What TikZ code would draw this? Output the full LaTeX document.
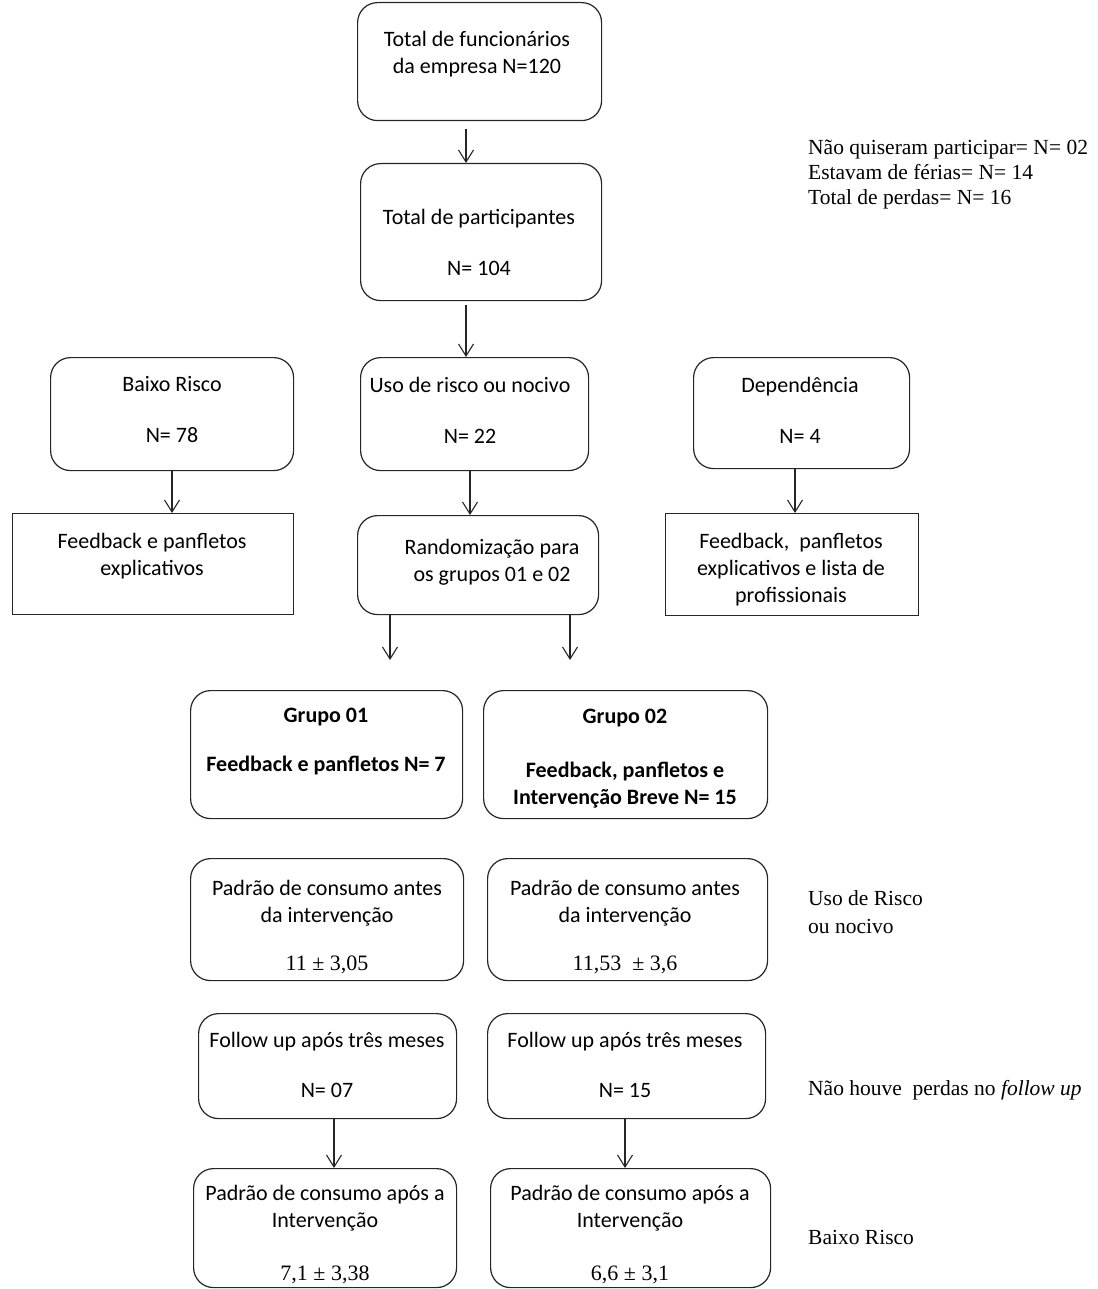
\documentclass[tikz,border=0pt]{standalone}
\usepackage{fontspec}
\setmainfont{Carlito}
\newfontfamily\tnr{Liberation Serif}
\usetikzlibrary{arrows.meta}
\begin{document}
\begin{tikzpicture}[x=1pt,y=-1pt,
  box/.style={draw=black!85, line width=1.2pt, rounded corners=20pt, anchor=north west, inner sep=0pt},
  rbox/.style={draw=black!85, line width=1.2pt, anchor=north west, inner sep=0pt},
  txt/.style={align=center, font=\fontsize{22}{27}\selectfont, inner sep=0pt},
  side/.style={align=left, anchor=west, font=\tnr\fontsize{21.5}{25}\selectfont, inner sep=0pt},
  arr/.style={draw=black!85, line width=1.1pt, -{Straight Barb[length=12pt,width=15pt]}}]
\useasboundingbox (0,0) rectangle (1097,1289);

% boxes
\node[box, minimum width=244pt, minimum height=118pt] (b1) at (357,2) {};
\node[box, minimum width=241pt, minimum height=137pt] (b2) at (360,163) {};
\node[box, minimum width=243pt, minimum height=113pt] (br) at (50,357) {};
\node[box, minimum width=228pt, minimum height=113pt] (uso) at (360,357) {};
\node[box, minimum width=216pt, minimum height=111pt] (dep) at (693,357) {};
\node[rbox, minimum width=281pt, minimum height=101pt] (fb1) at (12,513) {};
\node[box, minimum width=241pt, minimum height=99pt] (rand) at (357,515) {};
\node[rbox, minimum width=253pt, minimum height=102pt] (fb3) at (665,513) {};
\node[box, minimum width=272pt, minimum height=128pt] (g1) at (190,690) {};
\node[box, minimum width=284pt, minimum height=128pt] (g2) at (483,690) {};
\node[box, minimum width=273pt, minimum height=122pt] (pa1) at (190,858) {};
\node[box, minimum width=280pt, minimum height=122pt] (pa2) at (487,858) {};
\node[box, minimum width=258pt, minimum height=105pt] (fu1) at (198,1013) {};
\node[box, minimum width=278pt, minimum height=105pt] (fu2) at (487,1013) {};
\node[box, minimum width=263pt, minimum height=119pt] (pp1) at (193,1168) {};
\node[box, minimum width=280pt, minimum height=119pt] (pp2) at (490,1168) {};

% texts
\node[txt] (b1t) at (477,54) {Total de funcionários\\da empresa N=120};
\node[txt] (b2t) at (479,242) {Total de participantes\\[24pt]N= 104};
\node[txt] (brt) at (172,410) {Baixo Risco\\[24pt]N= 78};
\node[txt] (usot) at (470,410) {Uso de risco ou nocivo\\[24pt]N= 22};
\node[txt] (dept) at (800,410) {Dependência\\[24pt]N= 4};
\node[txt] (fb1t) at (152,556) {Feedback e panfletos\\explicativos};
\node[txt] (randt) at (492,562) {Randomização para\\os grupos 01 e 02};
\node[txt] (fb3t) at (791,570) {Feedback,\ \ panfletos\\explicativos e lista de\\profissionais};
\node[txt, font=\bfseries\fontsize{22}{27}\selectfont] (g1t) at (326,742) {Grupo 01\\[22pt]Feedback e panfletos N= 7};
\node[txt, font=\bfseries\fontsize{22}{27}\selectfont] (g2t) at (625,759) {Grupo 02\\[27pt]Feedback, panfletos e\\Intervenção Breve N= 15};
\node[txt] (pa1t) at (327,927) {Padrão de consumo antes\\da intervenção\\[21pt]{\tnr 11 ± 3,05}};
\node[txt] (pa2t) at (625,927) {Padrão de consumo antes\\da intervenção\\[21pt]{\tnr 11,53\ \ ± 3,6}};
\node[txt] (fu1t) at (327,1065) {Follow up após três meses\\[23pt]N= 07};
\node[txt] (fu2t) at (625,1065) {Follow up após três meses\\[23pt]N= 15};
\node[txt] (pp1t) at (325,1235) {Padrão de consumo após a\\Intervenção\\[26pt]{\tnr 7,1 ± 3,38}};
\node[txt] (pp2t) at (630,1235) {Padrão de consumo após a\\Intervenção\\[26pt]{\tnr 6,6 ± 3,1}};

% side notes
\node[side] (s1) at (808,175) {Não quiseram participar= N= 02\\Estavam de férias= N= 14\\Total de perdas= N= 16};
\node[side, font=\tnr\fontsize{21.5}{28}\selectfont] (s2) at (808,912) {Uso de Risco\\ou nocivo};
\node[side] (s3) at (808,1090) {Não houve\ \ perdas no \textit{follow up}};
\node[side] (s4) at (808,1237) {Baixo Risco};

% connectors
\coordinate (e1) at (390,660);
\coordinate (e2) at (570,660);
\draw[arr, shorten <=8pt] (466,0 |- b1.south) -- (466,0 |- b2.north);
\draw[arr, shorten <=4pt] (466,0 |- b2.south) -- (466,0 |- uso.north);
\draw[arr] (172,0 |- br.south) -- (172,0 |- fb1.north);
\draw[arr] (470,0 |- uso.south) -- (470,0 |- rand.north);
\draw[arr] (795,0 |- dep.south) -- (795,0 |- fb3.north);
\draw[arr] (e1 |- rand.south) -- (e1);
\draw[arr] (e2 |- rand.south) -- (e2);
\draw[arr] (334,0 |- fu1.south) -- (334,0 |- pp1.north);
\draw[arr] (625,0 |- fu2.south) -- (625,0 |- pp2.north);
\end{tikzpicture}
\end{document}
